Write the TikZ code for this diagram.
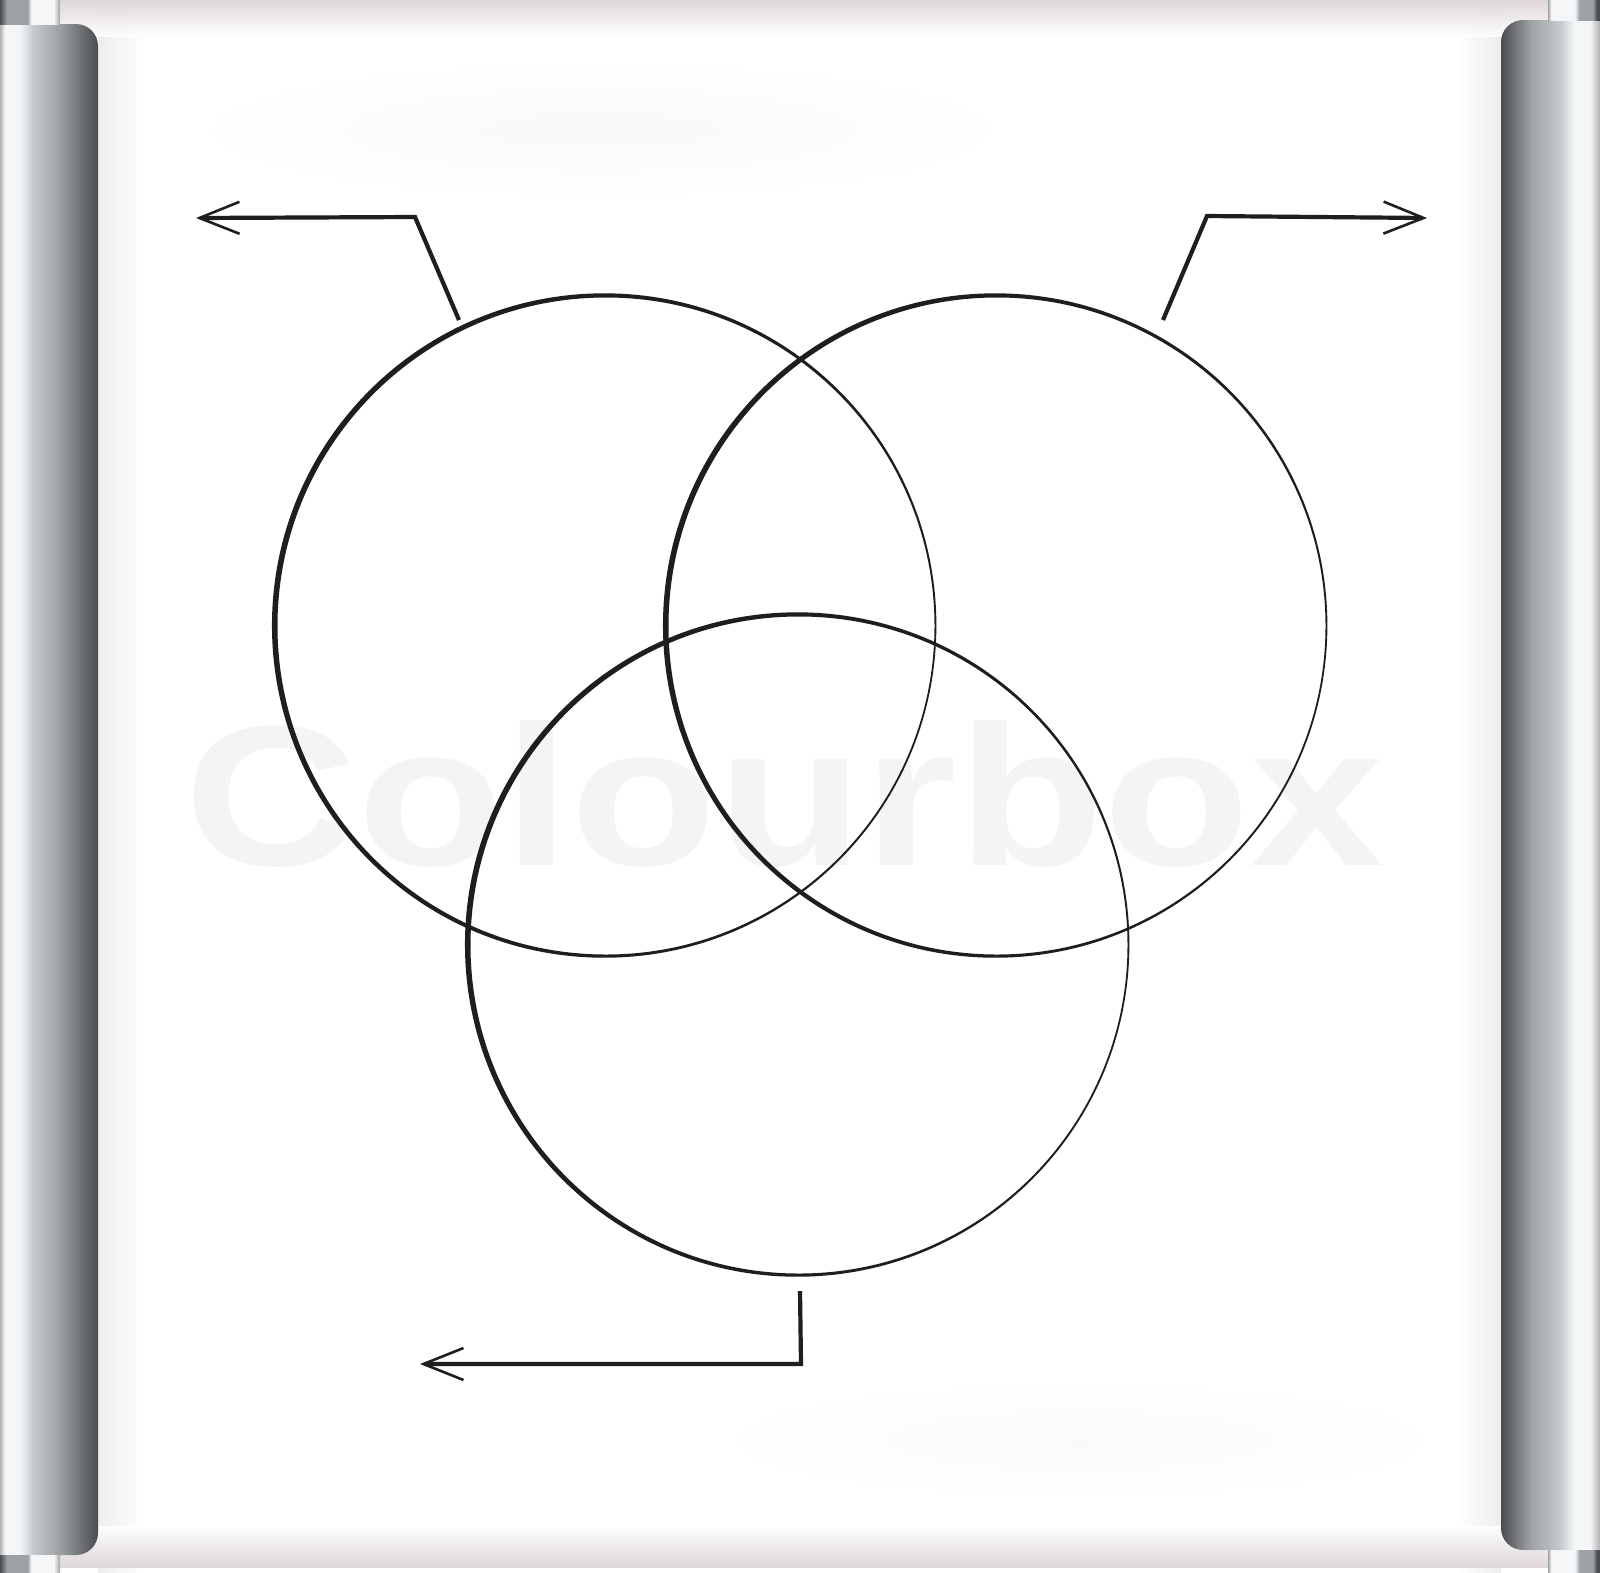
\documentclass[tikz,border=0pt]{standalone}
\usepackage{fontspec}
\usepackage{tikz}
\usetikzlibrary{arrows.meta,positioning}
\newfontfamily\markfont{Liberation Sans}
\definecolor{rollhi}{HTML}{F4F6F7}
\definecolor{rollmid}{HTML}{C6CACD}
\definecolor{rollgray}{HTML}{9FA2A5}
\definecolor{rolldark}{HTML}{4A4C50}
\definecolor{rolledge}{HTML}{B0B2B4}
\definecolor{paperband}{HTML}{DCD4D5}
\definecolor{markgray}{HTML}{F4F4F4}
\definecolor{inkblack}{HTML}{1E1E1E}
\pgfdeclarehorizontalshading{rollerleft}{100bp}{color(0bp)=(rolledge); color(25bp)=(rolledge); color(27.5bp)=(rollhi); color(35bp)=(rollhi); color(42bp)=(rollmid); color(55bp)=(rollgray); color(75bp)=(rolldark); color(100bp)=(rolldark)}
\pgfdeclarehorizontalshading{rollerright}{100bp}{color(0bp)=(rolldark); color(25bp)=(rolldark); color(40bp)=(rollgray); color(55bp)=(rollmid); color(62bp)=(rollhi); color(70bp)=(rollhi); color(75bp)=(rolledge); color(100bp)=(rolledge)}
\pgfdeclarehorizontalshading{capleft}{100bp}{color(0bp)=(rolldark); color(25bp)=(rolldark); color(31bp)=(rollgray); color(48bp)=(rollgray); color(51bp)=(rollhi); color(70bp)=(rollhi); color(75bp)=(rollgray); color(100bp)=(rollgray)}
\pgfdeclarehorizontalshading{capright}{100bp}{color(0bp)=(rollgray); color(25bp)=(rollgray); color(28bp)=(rollhi); color(51bp)=(rollhi); color(55bp)=(rollgray); color(68bp)=(rollgray); color(72bp)=(rolldark); color(100bp)=(rolldark)}
\tikzstyle{venn} = [circle, minimum size=660pt, inner sep=0pt]
\tikzstyle{leader} = [line width=4.2pt, inkblack, line join=miter, -{Straight Barb[length=40pt,width=32pt,line width=2.6pt]}]

\begin{document}
\begin{tikzpicture}[x=1pt,y=-1pt]
    \useasboundingbox (0,0) rectangle (1600,1572);
    % paper
    \fill[white] (0,0) rectangle (1600,1572);
    \shade[inner color=gray!5, outer color=white] (600,130) ellipse (420 and 70);
    \shade[inner color=gray!4, outer color=white] (1080,1440) ellipse (380 and 60);
    \shade[left color=gray!14, right color=white] (98,0) rectangle (145,1572);
    \shade[left color=white, right color=gray!14] (1455,0) rectangle (1501,1572);
    \shade[top color=paperband, bottom color=white, fill opacity=0.9] (0,0) rectangle (1600,36);
    \shade[top color=white, bottom color=paperband, fill opacity=0.9] (0,1526) rectangle (1600,1567);
    \node[font=\markfont\bfseries\fontsize{200}{200}\selectfont, text=markgray, inner sep=0pt, anchor=base, xscale=1.2] (mark) at (784,865) {Colourbox};

    % rollers
    \shade[shading=rollerleft] (0,24) -- (76,24) arc[start angle=-90,end angle=0,radius=22] -- (98,1533) arc[start angle=0,end angle=90,radius=22] -- (0,1555) -- cycle;
    \shade[shading=capleft] (0,0) rectangle (60,24);
    \shade[shading=capleft] (0,1555) rectangle (60,1572);
    \shade[shading=rollerright] (1600,20) -- (1523,20) arc[start angle=-90,end angle=-180,radius=22] -- (1501,1528) arc[start angle=180,end angle=90,radius=22] -- (1600,1550) -- cycle;
    \shade[shading=capright] (1548,0) rectangle (1600,20);
    \shade[shading=capright] (1548,1550) rectangle (1600,1572);

    % circles, stroke thicker on the upper left
    \node[venn] (left) at (606,626) {};
    \node[venn] (right) at (997,626) {};
    \node[venn] (bottom) at (799,945) {};
    \foreach \c in {left,right,bottom}
        \fill[inkblack, even odd rule] ([shift={(195:1.9)}]\c.center) circle (332.2) (\c.center) circle (328.5);

    % leaders
    \coordinate (leftstart) at (459,320);
    \coordinate (leftknee) at (415,217);
    \coordinate (leftend) at (196,218);
    \coordinate (rightstart) at (1163,320);
    \coordinate (rightknee) at (1207,216);
    \coordinate (rightend) at (1427,218);
    \coordinate (bottomstart) at (800,1291);
    \coordinate (bottomknee) at (801,1364);
    \coordinate (bottomend) at (420,1364);
    \draw[leader] (leftstart) -- (leftknee) -- (leftend);
    \draw[leader] (rightstart) -- (rightknee) -- (rightend);
    \draw[leader] (bottomstart) -- (bottomknee) -- (bottomend);
\end{tikzpicture}
\end{document}
